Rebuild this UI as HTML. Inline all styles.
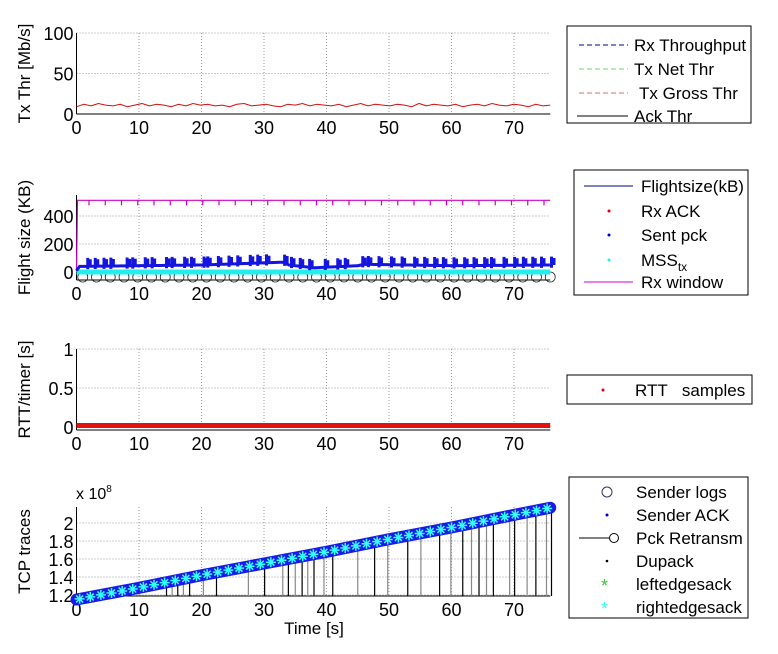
<!DOCTYPE html>
<html><head><meta charset="utf-8"><style>
body{margin:0;background:#fff}
svg{display:block;font-family:"Liberation Sans",Arial,sans-serif}
</style></head><body>
<svg id="c" width="778" height="654" viewBox="0 0 778 654"></svg>
<script>
const xTicks=[0,10,20,30,40,50,60,70];
const thrVals=[9,12,10,13,11,10,12,9,11,13,10,12,11,9,12,10,13,11,12,10,11,9,12,13,10,11,12,10,9,12,11,13,10,12,11,10,12,9,11,13,10,12,11,10,12,11,9,13,10,12,11,10,12,9,11,12,10,13,11,10,12,11,9,12,10,11];
const fsBaseT=[0,0.5,10,20,33,34,38,45,46,60,76];
const fsBaseV=[10,40,45,50,70,50,30,45,55,45,50];
const fsSpikes=[1.8,3.0,4.4,5.5,8.1,9.0,11.0,12.1,14.4,15.3,17.3,18.4,20.4,21.0,22.7,24.4,25.8,27.8,29.0,30.4,33.3,34.4,35.8,37.3,39.8,41.8,43.0,45.8,46.7,48.4,50.4,52.1,54.1,55.7,57.3,58.7,60.4,62.1,63.6,65.3,66.4,68.4,70.1,71.5,73.0,74.4,76.0];
const rxWin=512;
const rttVal=0.02;
const seqT=[0,10,20,30,40,50,60,70,76];
const seqV=[1.15,1.28,1.42,1.55,1.68,1.82,1.95,2.09,2.17];
const retrans=[14.4,15.3,16.2,17.1,18.1,20.3,22.4,27.5,30.1,33,33.9,35,36.1,37,38,39.6,41,45,47.7,49.8,53,55.1,58.1,59.9,61.8,63.2,64.4,65.6,66.7,69.3,70.1,72.1,73.5,75.2,76];

const S=document.getElementById('c'),NS='http://www.w3.org/2000/svg';
function el(t,a,p){const e=document.createElementNS(NS,t);for(const k in a)e.setAttribute(k,a[k]);(p||S).appendChild(e);return e;}
const X0=76.5,XK=6.25,XMAX=75.8;
const X=t=>X0+t*XK;
function lin(d0,d1,p0,p1){return v=>p0+(v-d0)*(p1-p0)/(d1-d0);}
function interp(ts,vs,t){for(let i=1;i<ts.length;i++)if(t<=ts[i]){const f=(t-ts[i-1])/(ts[i]-ts[i-1]);return vs[i-1]+f*(vs[i]-vs[i-1]);}return vs[vs.length-1];}
function axes(name,Y,top,bot,yt,ylabels,title,tx){
  const g=el('g',{});
  xTicks.forEach(t=>{el('line',{x1:X(t),x2:X(t),y1:top,y2:bot,stroke:'#999','stroke-dasharray':'1,2'},g);});
  yt.forEach(v=>{el('line',{x1:X0,x2:X(XMAX),y1:Y(v),y2:Y(v),stroke:'#999','stroke-dasharray':'1,2'},g);});
  el('line',{x1:X0,x2:X0,y1:top,y2:bot,stroke:'#000'},g);
  el('line',{x1:X0,x2:X(XMAX),y1:bot,y2:bot,stroke:'#000'},g);
  xTicks.forEach(t=>{const e=el('text',{x:X(t),y:bot+20,'font-size':18,'text-anchor':'middle'},g);e.textContent=t;});
  yt.forEach((v,i)=>{const e=el('text',{x:X0-3,y:Y(v)+7,'font-size':18,'text-anchor':'end'},g);e.textContent=ylabels[i];});
  const t=el('text',{x:0,y:0,'font-size':17,'text-anchor':'middle',transform:`translate(${tx},${(top+bot)/2}) rotate(-90)`},g);t.textContent=title;
  
  return g;
}
function legend(name,x,y,w,h,items){
  const g=el('g',{});
  el('rect',{x,y,width:w,height:h,fill:'#fff',stroke:'#000'},g);
  items.forEach(it=>{const e=el('text',{x:x+it.tx,y:y+it.ty,'font-size':17},g);e.innerHTML=it.label;
    it.draw(g,y+it.ty-6);});
  return g;
}
// Panel 1
const Y1=lin(0,100,114,33);
axes('throughput-panel',Y1,33,114,[0,50,100],['0','50','100'],'Tx Thr [Mb/s]',30);
let pts=thrVals.map((v,i)=>X(i*XMAX/(thrVals.length-1))+','+Y1(v)).join(' ');
const tl=el('polyline',{points:pts,fill:'none',stroke:'#d01010','stroke-width':1});

legend('throughput-legend',567,26,184,97,[
 {label:'Rx Throughput',tx:67,ty:25,draw:(g,y)=>el('line',{x1:579,x2:628,y1:y,y2:y,stroke:'#00008b','stroke-dasharray':'5,3'},g)},
 {label:'Tx Net Thr',tx:67,ty:49,draw:(g,y)=>el('line',{x1:579,x2:628,y1:y,y2:y,stroke:'#6d6','stroke-dasharray':'5,3'},g)},
 {label:' Tx Gross Thr',tx:72,ty:73,draw:(g,y)=>el('line',{x1:579,x2:628,y1:y,y2:y,stroke:'#c77','stroke-dasharray':'5,3'},g)},
 {label:'Ack Thr',tx:67,ty:96,draw:(g,y)=>el('line',{x1:577,x2:628,y1:y,y2:y,stroke:'#000'},g)}]);
// Panel 2
const Y2=lin(0,400,272,216);
axes('flightsize-panel',Y2,195,280,[0,200,400],['0','200','400'],'Flight size (KB)',30);
let rw=`M${X0},${Y2(0)} L${X0+1},${Y2(rxWin)} L${X(XMAX)},${Y2(rxWin)}`;
for(let t=2;t<76;t+=2.6)rw+=` M${X(t)},${Y2(rxWin)} v5`;
const rwp=el('path',{d:rw,fill:'none',stroke:'#c0c','stroke-width':1.2});

for(let t=1;t<76;t+=2.2){const c=el('circle',{cx:X(t),cy:Y2(0)+5,r:5,fill:'none',stroke:'#222','stroke-width':0.8});}
const cy=el('line',{x1:X0,x2:X(XMAX),y1:Y2(0),y2:Y2(0),stroke:'#2ee','stroke-width':5});

let fd='';for(let t=0;t<=XMAX;t+=0.25){fd+=(t?'L':'M')+X(t)+','+Y2(interp(fsBaseT,fsBaseV,t));}
fsSpikes.forEach(t=>{const b=interp(fsBaseT,fsBaseV,t);fd+=` M${X(t)},${Y2(b-20)} L${X(t)},${Y2(b+60)} M${X(t)+2.5},${Y2(b)} L${X(t)+2.5},${Y2(b+50)}`;});
const fp=el('path',{d:fd,fill:'none',stroke:'#1515e0','stroke-width':3});

legend('flightsize-legend',574,170,174,125,[
 {label:'Flightsize(kB)',tx:67,ty:22,draw:(g,y)=>el('line',{x1:584,x2:633,y1:y,y2:y,stroke:'#00008b'},g)},
 {label:'Rx ACK',tx:67,ty:47,draw:(g,y)=>el('circle',{cx:609,cy:y,r:1.5,fill:'#d00'},g)},
 {label:'Sent pck',tx:67,ty:71,draw:(g,y)=>el('circle',{cx:609,cy:y,r:1.5,fill:'#00c'},g)},
 {label:'MSS<tspan font-size="12" dy="5">tx</tspan>',tx:67,ty:96,draw:(g,y)=>el('circle',{cx:609,cy:y,r:1.5,fill:'#2ee'},g)},
 {label:'Rx window',tx:67,ty:118,draw:(g,y)=>el('line',{x1:584,x2:633,y1:y,y2:y,stroke:'#c0c'},g)}]);
// Panel 3
const Y3=lin(0,1,427,349);
axes('rtt-panel',Y3,349,430,[0,0.5,1],['0','0.5','1'],'RTT/timer [s]',30);
const rl=el('line',{x1:X0,x2:X(XMAX),y1:Y3(rttVal),y2:Y3(rttVal),stroke:'#e51010','stroke-width':5});

legend('rtt-legend',567,375,185,29,[{label:'RTT&#160;&#160; samples',tx:68,ty:21,draw:(g,y)=>el('circle',{cx:603,cy:y,r:1.5,fill:'#d00'},g)}]);
// Panel 4
const Y4=lin(1.2,2,595,523);
axes('tcp-traces-panel',Y4,507,596,[1.2,1.4,1.6,1.8,2],['1.2','1.4','1.6','1.8','2'],'TCP traces',30);
const ex=el('text',{x:76,y:499,'font-size':16});ex.innerHTML='x 10<tspan font-size="10" dy="-7">8</tspan>';

retrans.forEach((t,i)=>{const l=el('line',{x1:X(t),x2:X(t),y1:596,y2:Y4(interp(seqT,seqV,t)),stroke:i%2?'#888':'#000','stroke-width':1.2});
 });
const sl=el('polyline',{points:seqT.map((t,i)=>X(Math.min(t,XMAX))+','+Y4(seqV[i])).join(' '),fill:'none',stroke:'#1a1ae6','stroke-width':12,'stroke-linecap':'round'});

for(let t=0.5;t<=XMAX;t+=1.7){const x=X(t),y=Y4(interp(seqT,seqV,t));const a=el('path',{d:`M${x-5},${y}h10M${x},${y-5}v10M${x-3.5},${y-3.5}l7,7M${x-3.5},${y+3.5}l7,-7`,stroke:'#3ff','stroke-width':1.5});
 }
legend('tcp-legend',569,477,179,141,[
 {label:'Sender logs',tx:67,ty:21,draw:(g,y)=>el('circle',{cx:607,cy:y,r:5,fill:'none',stroke:'#336'},g)},
 {label:'Sender ACK',tx:67,ty:44,draw:(g,y)=>el('circle',{cx:607,cy:y,r:1.5,fill:'#00c'},g)},
 {label:'Pck Retransm',tx:67,ty:67,draw:(g,y)=>{el('line',{x1:579,x2:614,y1:y,y2:y,stroke:'#000'},g);el('circle',{cx:614,cy:y,r:4.5,fill:'#fff',stroke:'#000'},g);}},
 {label:'Dupack',tx:67,ty:90,draw:(g,y)=>el('circle',{cx:607,cy:y,r:1.3,fill:'#000'},g)},
 {label:'leftedgesack',tx:67,ty:113,draw:(g,y)=>el('text',{x:601,y:y+8,'font-size':18,fill:'#3c3'},g).textContent='*'},
 {label:'rightedgesack',tx:67,ty:136,draw:(g,y)=>el('text',{x:601,y:y+8,'font-size':18,fill:'#3ff'},g).textContent='*'}]);
const xt=el('text',{x:314,y:634,'font-size':17,'text-anchor':'middle'});xt.textContent='Time [s]';

</script>
</body></html>
